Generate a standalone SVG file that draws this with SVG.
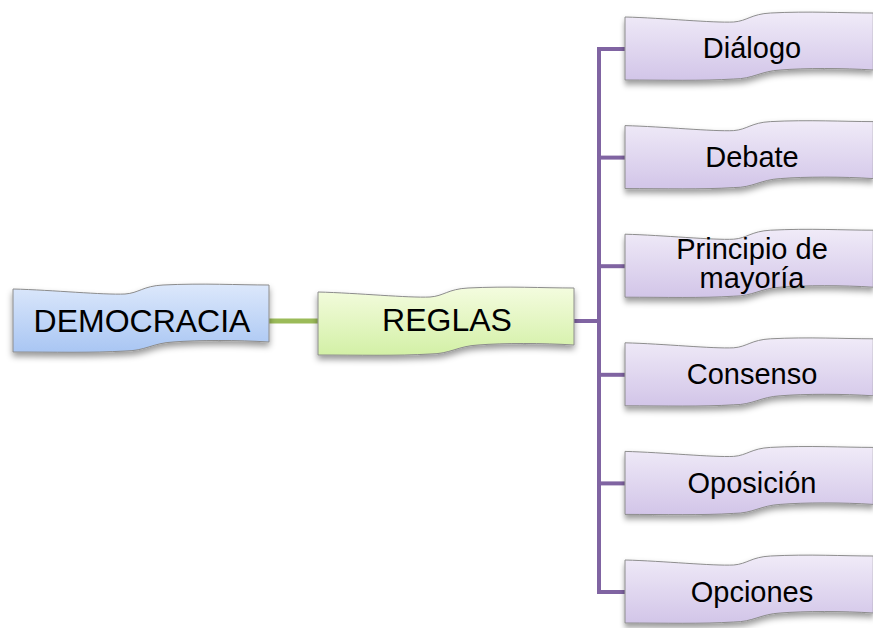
<svg xmlns="http://www.w3.org/2000/svg" xmlns:xlink="http://www.w3.org/1999/xlink" width="873" height="628" viewBox="0 0 873 628">
<style>
.lbl{font-family:"Liberation Sans",Arial,sans-serif;fill:#000;text-anchor:middle}
.big{font-size:32px}
.sm{font-size:29px}
.box{stroke:#8c8c8c;stroke-width:1;filter:url(#sh)}
.green{stroke:#9bbb59;stroke-width:5;fill:none}
.purple{stroke:#8064a2;stroke-width:4;fill:none}
</style>
<defs>
<path id="wave" d="M0,5 C40,6 90,11 112,10 C126,9 130,2 150,1 C190,-1 225,1 256,1 L256,58 C225,56 185,56 160,58 C140,59 132,67 112,67 C80,69 40,68 0,68 Z"/>
<linearGradient id="gBlue" x1="0" y1="0" x2="0" y2="1">
<stop offset="0" stop-color="#dce8fb"/><stop offset="1" stop-color="#a9c6f3"/>
</linearGradient>
<linearGradient id="gGreen" x1="0" y1="0" x2="0" y2="1">
<stop offset="0" stop-color="#f4fcdf"/><stop offset="1" stop-color="#d3f0a6"/>
</linearGradient>
<linearGradient id="gPurple" x1="0" y1="0" x2="0" y2="1">
<stop offset="0" stop-color="#f0ebf8"/><stop offset="1" stop-color="#d2c5e8"/>
</linearGradient>
<filter id="sh" x="-10%" y="-20%" width="120%" height="150%">
<feDropShadow dx="0" dy="4" stdDeviation="3" flood-color="#000" flood-opacity="0.4"/>
</filter>
</defs>
<g id="connectors">
<line class="green" x1="268" y1="321" x2="320" y2="321"/>
<line class="purple" x1="572" y1="321" x2="599" y2="321"/>
<line class="purple" x1="599" y1="47" x2="599" y2="594"/>
<line class="purple" x1="597" y1="49" x2="627" y2="49"/>
<line class="purple" x1="597" y1="157.6" x2="627" y2="157.6"/>
<line class="purple" x1="597" y1="266.2" x2="627" y2="266.2"/>
<line class="purple" x1="597" y1="374.8" x2="627" y2="374.8"/>
<line class="purple" x1="597" y1="483.4" x2="627" y2="483.4"/>
<line class="purple" x1="597" y1="592" x2="627" y2="592"/>
</g>
<g id="democracia">
<use xlink:href="#wave" class="box" fill="url(#gBlue)" transform="translate(13,284)"/>
<text class="lbl big" x="142" y="332">DEMOCRACIA</text>
</g>
<g id="reglas">
<use xlink:href="#wave" class="box" fill="url(#gGreen)" transform="translate(318,287)"/>
<text class="lbl big" x="447" y="331">REGLAS</text>
</g>
<g id="dialogo">
<use xlink:href="#wave" class="box" fill="url(#gPurple)" transform="translate(625,12) scale(0.97,1)"/>
<text class="lbl sm" x="752" y="58">Diálogo</text>
</g>
<g id="debate">
<use xlink:href="#wave" class="box" fill="url(#gPurple)" transform="translate(625,120.6) scale(0.97,1)"/>
<text class="lbl sm" x="752" y="166.6">Debate</text>
</g>
<g id="principio">
<use xlink:href="#wave" class="box" fill="url(#gPurple)" transform="translate(625,229.2) scale(0.97,1)"/>
<text class="lbl sm" x="752" y="259">Principio de</text>
<text class="lbl sm" x="752" y="288">mayoría</text>
</g>
<g id="consenso">
<use xlink:href="#wave" class="box" fill="url(#gPurple)" transform="translate(625,337.8) scale(0.97,1)"/>
<text class="lbl sm" x="752" y="384">Consenso</text>
</g>
<g id="oposicion">
<use xlink:href="#wave" class="box" fill="url(#gPurple)" transform="translate(625,446.4) scale(0.97,1)"/>
<text class="lbl sm" x="752" y="493">Oposición</text>
</g>
<g id="opciones">
<use xlink:href="#wave" class="box" fill="url(#gPurple)" transform="translate(625,555) scale(0.97,1)"/>
<text class="lbl sm" x="752" y="602">Opciones</text>
</g>
</svg>
